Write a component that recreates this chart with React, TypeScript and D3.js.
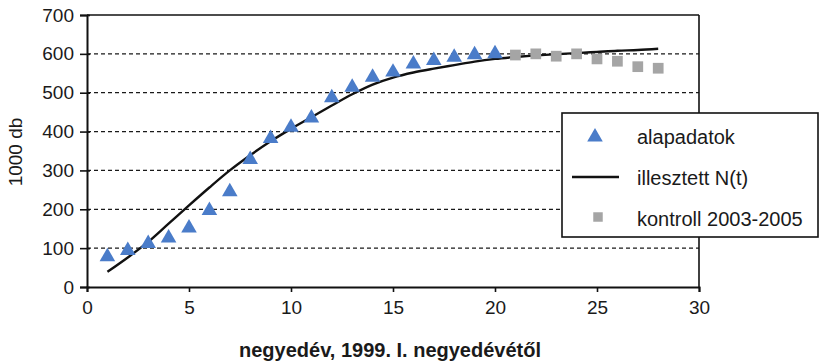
import { useEffect, useRef } from 'react';
import * as d3 from 'd3';

// alapadatok: quarters 1..20
const baseQuarters = [1, 2, 3, 4, 5, 6, 7, 8, 9, 10, 11, 12, 13, 14, 15, 16, 17, 18, 19, 20];
const baseValues = [78, 94, 112, 126, 152, 197, 245, 328, 382, 411, 435, 487, 514, 540, 553, 574, 583, 591, 598, 600];

// kontroll 2003-2005: quarters 21..28
const controlQuarters = [21, 22, 23, 24, 25, 26, 27, 28];
const controlValues = [597, 600, 594, 600, 587, 581, 567, 563];

// illesztett N(t)
const fitQuarters = [1, 2, 3, 4, 5, 6, 7, 8, 9, 10, 11, 12, 13, 14, 15, 16, 17, 18, 19, 20, 21, 22, 23, 24, 25, 26, 27, 28];
const fitValues = [39, 76, 116, 163, 210, 256, 300, 339, 375, 407, 437, 467, 496, 521, 539, 552, 562, 571, 580, 587, 592, 596, 599, 602, 605, 608, 610, 613];

const xTicks = [0, 5, 10, 15, 20, 25, 30];
const yTicks = [0, 100, 200, 300, 400, 500, 600, 700];

const legendLabels = ['alapadatok', 'illesztett N(t)', 'kontroll 2003-2005'];

const BLUE = '#4a7cc9';
const GREY = '#a5a5a5';
const FONT = '"Liberation Sans", Arial, Helvetica, sans-serif';

const App = () => {
  const svgRef = useRef<SVGSVGElement>(null);

  useEffect(() => {
    const width = 825;
    const height = 362;
    const left = 87, right = 699, top = 15, bottom = 287;

    const svg = d3.select(svgRef.current);
    svg.selectAll('*').remove();
    svg.attr('width', width).attr('height', height);

    svg.append('rect').attr('width', width).attr('height', height).attr('fill', '#fff');

    const x = d3.scaleLinear().domain([0, 30]).range([left, right]);
    const y = d3.scaleLinear().domain([0, 700]).range([bottom, top]);

    // dashed gridlines
    svg.append('g')
      .selectAll('line')
      .data(yTicks.filter(t => t > 0 && t < 700))
      .enter()
      .append('line')
      .attr('x1', left)
      .attr('x2', right)
      .attr('y1', d => y(d))
      .attr('y2', d => y(d))
      .attr('stroke', '#1a1a1a')
      .attr('stroke-width', 1.3)
      .attr('stroke-dasharray', '4,3');

    // frame: top + right
    svg.append('line')
      .attr('x1', left).attr('x2', right).attr('y1', y(700)).attr('y2', y(700))
      .attr('stroke', '#111').attr('stroke-width', 1.6);
    svg.append('line')
      .attr('x1', right).attr('x2', right).attr('y1', y(700)).attr('y2', y(0))
      .attr('stroke', '#111').attr('stroke-width', 1.6);

    // Y axis (ticks cross the axis line)
    const yAxis = svg.append('g')
      .attr('transform', `translate(${left},0)`)
      .call(d3.axisLeft(y).tickValues(yTicks).tickSize(7).tickPadding(6).tickFormat(d3.format('d')));
    yAxis.select('.domain').attr('stroke', '#111').attr('stroke-width', 2);
    yAxis.selectAll('.tick line').attr('x2', 3).attr('x1', -7).attr('stroke', '#111').attr('stroke-width', 1.6);
    yAxis.selectAll('text')
      .attr('fill', '#1a1a1a')
      .style('font-family', FONT)
      .style('font-size', '19px');

    // X axis
    const xAxis = svg.append('g')
      .attr('transform', `translate(0,${bottom})`)
      .call(d3.axisBottom(x).tickValues(xTicks).tickSize(5).tickPadding(9));
    xAxis.select('.domain').attr('stroke', '#111').attr('stroke-width', 2);
    xAxis.selectAll('.tick line').attr('stroke', '#111').attr('stroke-width', 1.6);
    xAxis.selectAll('text')
      .attr('fill', '#1a1a1a')
      .style('font-family', FONT)
      .style('font-size', '19px');

    // fitted line
    const line = d3.line<number>()
      .x((d, i) => x(fitQuarters[i]))
      .y(d => y(d))
      .curve(d3.curveMonotoneX);
    svg.append('path')
      .datum(fitValues)
      .attr('d', line)
      .attr('fill', 'none')
      .attr('stroke', '#111')
      .attr('stroke-width', 2.4);

    const tri = d3.symbol().type(d3.symbolTriangle).size(105);
    const sq = d3.symbol().type(d3.symbolSquare).size(115);

    // control squares
    svg.append('g')
      .selectAll('path')
      .data(controlValues)
      .enter()
      .append('path')
      .attr('d', sq)
      .attr('transform', (d, i) => `translate(${x(controlQuarters[i])},${y(d)})`)
      .attr('fill', GREY);

    // base triangles
    svg.append('g')
      .selectAll('path')
      .data(baseValues)
      .enter()
      .append('path')
      .attr('d', tri)
      .attr('transform', (d, i) => `translate(${x(baseQuarters[i])},${y(d)})`)
      .attr('fill', BLUE);

    // legend
    const lg = svg.append('g').attr('transform', 'translate(562,113)');
    lg.append('rect')
      .attr('width', 256).attr('height', 124)
      .attr('fill', '#fff').attr('stroke', '#111').attr('stroke-width', 1.6);
    lg.append('path').attr('d', tri).attr('transform', 'translate(33,24)').attr('fill', BLUE);
    lg.append('line').attr('x1', 10).attr('x2', 57).attr('y1', 64).attr('y2', 64)
      .attr('stroke', '#111').attr('stroke-width', 2.4);
    lg.append('path').attr('d', d3.symbol().type(d3.symbolSquare).size(90))
      .attr('transform', 'translate(36,104)').attr('fill', GREY);
    lg.selectAll('text.lbl')
      .data(legendLabels)
      .enter()
      .append('text')
      .attr('class', 'lbl')
      .attr('x', 75)
      .attr('y', (d, i) => 31 + i * 41)
      .attr('fill', '#1a1a1a')
      .style('font-family', FONT)
      .style('font-size', '20px')
      .text(d => d);

    // axis titles
    svg.append('text')
      .attr('transform', 'translate(22,152) rotate(-90)')
      .attr('text-anchor', 'middle')
      .attr('fill', '#1a1a1a')
      .style('font-family', FONT)
      .style('font-size', '19px')
      .text('1000 db');

    svg.append('text')
      .attr('x', 390)
      .attr('y', 357)
      .attr('text-anchor', 'middle')
      .attr('fill', '#1a1a1a')
      .style('font-family', FONT)
      .style('font-size', '20px')
      .style('font-weight', 'bold')
      .text('negyedév, 1999. I. negyedévétől');
  }, []);

  return <svg ref={svgRef} style={{ position: 'absolute', left: 0, top: 0, display: 'block' }}></svg>;
};

export default App;
